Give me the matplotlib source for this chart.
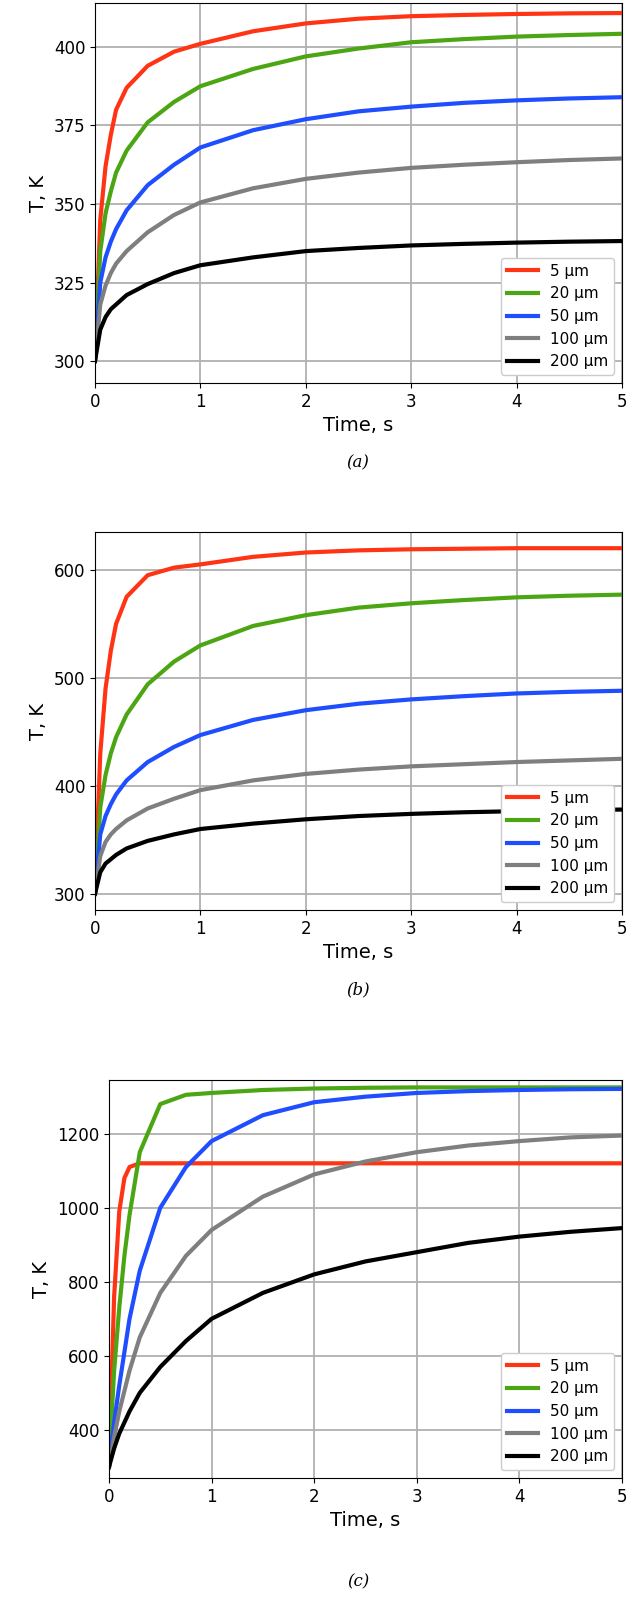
import matplotlib.pyplot as plt
import numpy as np

t = [0, 0.05, 0.1, 0.15, 0.2, 0.3, 0.5, 0.75, 1, 1.5, 2, 2.5, 3, 3.5, 4, 4.5, 5]
labels = ["5 µm", "20 µm", "50 µm", "100 µm", "200 µm"]
colors = ["#ff3414", "#4ca614", "#1f4eff", "#7f7f7f", "#000000"]

# panel (a)
a_5 = [300, 345, 362, 372, 380, 387, 394, 398.5, 401, 405, 407.5, 409, 409.8, 410.2, 410.5, 410.7, 410.8]
a_20 = [300, 335, 347, 354, 360, 367, 376, 382.5, 387.5, 393, 397, 399.5, 401.5, 402.5, 403.3, 403.8, 404.2]
a_50 = [300, 325, 333, 338, 342, 348, 356, 362.5, 368, 373.5, 377, 379.5, 381, 382.2, 383, 383.6, 384]
a_100 = [300, 318, 324, 328, 331, 335, 341, 346.5, 350.5, 355, 358, 360, 361.5, 362.5, 363.3, 364, 364.5]
a_200 = [300, 310, 314, 316.5, 318, 321, 324.5, 328, 330.5, 333, 335, 336, 336.8, 337.3, 337.7, 338, 338.2]

# panel (b)
b_5 = [300, 430, 490, 525, 550, 575, 595, 602, 605, 612, 616, 618, 619, 619.5, 620, 620, 620]
b_20 = [300, 380, 410, 430, 445, 466, 494, 515, 530, 548, 558, 565, 569, 572, 574.5, 576, 577]
b_50 = [300, 355, 372, 383, 392, 405, 422, 436, 447, 461, 470, 476, 480, 483, 485.5, 487, 488]
b_100 = [300, 335, 348, 355, 360, 368, 379, 388, 396, 405, 411, 415, 418, 420, 422, 423.5, 425]
b_200 = [300, 320, 328, 332, 336, 342, 349, 355, 360, 365, 369, 372, 374, 375.5, 376.5, 377.5, 378]

# panel (c)
c_5 = [300, 760, 990, 1080, 1110, 1120, 1120, 1120, 1120, 1120, 1120, 1120, 1120, 1120, 1120, 1120, 1120]
c_20 = [300, 560, 730, 870, 980, 1150, 1280, 1305, 1310, 1318, 1322, 1324, 1325, 1325, 1325, 1325, 1325]
c_50 = [300, 420, 520, 610, 700, 830, 1000, 1110, 1180, 1250, 1285, 1300, 1310, 1315, 1318, 1320, 1321]
c_100 = [300, 380, 450, 505, 560, 650, 770, 870, 940, 1030, 1090, 1125, 1150, 1168, 1180, 1190, 1195]
c_200 = [300, 350, 390, 420, 450, 500, 570, 640, 700, 770, 820, 855, 880, 905, 922, 935, 945]

panels = [
    ([a_5, a_20, a_50, a_100, a_200], (293, 414), np.arange(300, 401, 25), "(a)"),
    ([b_5, b_20, b_50, b_100, b_200], (285, 635), np.arange(300, 601, 100), "(b)"),
    ([c_5, c_20, c_50, c_100, c_200], (270, 1345), np.arange(400, 1201, 200), "(c)"),
]

# pixel boxes: left, top, bottom, tag y
boxes = [(95, 3, 383, 463), (95, 532, 910, 990), (109, 1080, 1478, 1582)]

fig = plt.figure(figsize=(6.4, 16.01), dpi=100)
H = 1601.0
for (series, ylim, yt, tag), (left, top, bot, tagy) in zip(panels, boxes):
    ax = fig.add_axes([left / 640, 1 - bot / H, (622 - left) / 640, (bot - top) / H])
    for ys, lab, col in zip(series, labels, colors):
        ax.plot(t, ys, color=col, lw=3, label=lab)
    ax.set_xlim(0, 5)
    ax.set_ylim(*ylim)
    ax.set_yticks(yt)
    ax.set_xticks(range(6))
    ax.grid(True, color="#b0b0b0", lw=1.3)
    ax.tick_params(labelsize=12)
    ax.set_xlabel("Time, s", fontsize=14)
    ax.set_ylabel("T, K", fontsize=14)
    ax.legend(loc="lower right", fontsize=11, framealpha=1, edgecolor="#cccccc")
    fig.text(358 / 640, 1 - tagy / H, tag, ha="center", va="center",
             fontsize=12, family="serif", style="italic")

fig.savefig("out.png", dpi=100)
plt.close(fig)
